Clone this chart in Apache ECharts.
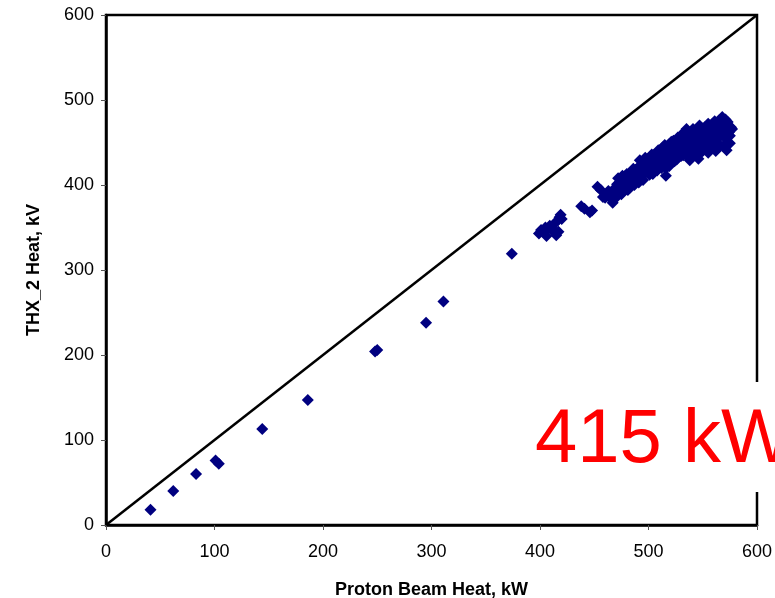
<!DOCTYPE html>
<html>
<head>
<meta charset="utf-8">
<script src="https://cdn.jsdelivr.net/npm/echarts@6/dist/echarts.min.js"></script>
<style>
  html, body { margin: 0; padding: 0; background: #fff; }
  #chart { width: 775px; height: 598px; }
</style>
</head>
<body>
<div id="chart"></div>
<script>
// Axis settings
const xTicks = [0, 100, 200, 300, 400, 500, 600];
const yTicks = [0, 100, 200, 300, 400, 500, 600];
const xName = 'Proton Beam Heat, kW';
const yName = 'THX_2 Heat, kV';
const calloutText = '415 kW';

// Reference line y = x
const diagonal = [[0, 0], [600, 600]];

// Measured points: [proton beam heat, THX_2 heat]
const rampUp = [
  [41, 18], [62, 40], [83, 60], [101, 76], [104, 72], [144, 113],
  [186, 147], [248, 204], [250, 206], [295, 238], [311, 263], [374, 319]
];
const lowPower = [
  [399, 343], [401, 347], [403, 345], [405, 350], [407, 348], [409, 352],
  [411, 349], [413, 354], [415, 341], [417, 345], [416, 358], [418, 362],
  [419, 365], [420, 360], [412, 346], [406, 340],
  [438, 375], [441, 372], [446, 368], [448, 370],
  [453, 398], [456, 394], [458, 386], [462, 390], [465, 387], [468, 395],
  [460, 385], [463, 393], [466, 383], [468, 389], [467, 379], [470, 385]
];
const fullPower = [
  [470, 392], [471, 401], [472, 408], [473, 396], [474, 404], [475, 389],
  [476, 411], [477, 399], [478, 405], [479, 395], [480, 413], [481, 402],
  [482, 408], [483, 397], [484, 415], [485, 404], [486, 410], [487, 400],
  [488, 418], [489, 407], [490, 413], [491, 403], [492, 422], [492, 429],
  [493, 410], [494, 418], [495, 425], [496, 413], [497, 421], [498, 428],
  [499, 416], [500, 424], [501, 432], [502, 419], [503, 427], [504, 413],
  [505, 435], [506, 422], [507, 430], [508, 417], [509, 438], [510, 426],
  [511, 433], [512, 420], [513, 444], [514, 429], [515, 437], [516, 411],
  [517, 441], [518, 425], [519, 448], [520, 433], [521, 440], [522, 427],
  [523, 452], [524, 436], [525, 444], [526, 430], [527, 456], [528, 439],
  [529, 447], [530, 434], [531, 460], [532, 443], [533, 451], [534, 437],
  [535, 466], [536, 446], [537, 454], [538, 429], [539, 462], [540, 441],
  [541, 457], [542, 449], [543, 435], [544, 464], [545, 452], [546, 431],
  [547, 459], [548, 446], [549, 467], [550, 440], [551, 455], [552, 462],
  [553, 448], [554, 470], [555, 438], [556, 458], [557, 465], [558, 445],
  [559, 472], [560, 452], [561, 461], [562, 440], [563, 468], [564, 449],
  [565, 476], [566, 457], [567, 464], [568, 480], [569, 446], [570, 470],
  [571, 455], [572, 441], [573, 474], [574, 462], [575, 449], [576, 468],
  [577, 466]
];
const fullPowerLate = [
  [474, 397], [478, 410], [481, 394], [485, 416], [488, 404], [490, 420],
  [493, 415], [495, 406], [497, 432], [499, 422], [501, 412], [503, 436],
  [505, 428], [507, 419], [509, 441], [511, 425], [513, 434], [515, 447],
  [517, 431], [519, 422], [521, 451], [523, 441], [525, 433], [527, 449],
  [529, 439], [531, 451], [533, 440], [535, 457], [537, 445], [539, 436],
  [541, 466], [543, 451], [545, 443], [547, 470], [549, 455], [551, 447],
  [553, 461], [555, 472], [557, 452], [559, 461], [561, 475], [563, 456],
  [565, 463], [567, 472], [569, 460], [571, 477], [573, 466], [575, 458],
  [536, 462], [544, 457], [552, 468], [560, 466], [526, 450], [518, 444],
  [510, 437], [502, 430], [494, 424], [486, 419], [548, 438], [556, 447],
  [564, 444], [540, 448], [532, 435], [524, 428], [516, 420], [508, 424]
];

const chart = echarts.init(document.getElementById('chart'), null, { renderer: 'canvas' });

const font = 'Liberation Sans, Arial, sans-serif';

function valueAxis(ticks, name, isX) {
  return {
    type: 'value',
    min: ticks[0],
    max: ticks[ticks.length - 1],
    interval: ticks[1] - ticks[0],
    name: name,
    nameLocation: 'middle',
    nameGap: isX ? 56 : 63,
    nameTextStyle: { fontFamily: font, fontSize: 18, fontWeight: 'bold', color: '#000' },
    axisLine: { show: true, onZero: false, lineStyle: { color: '#000', width: 2.5 } },
    axisTick: { show: true, inside: false, length: 5, lineStyle: { color: '#555', width: 1 } },
    axisLabel: { fontFamily: font, fontSize: 18, color: '#000', margin: isX ? 18 : 12 },
    splitLine: { show: false }
  };
}

const markerStyle = { color: '#000080', opacity: 1 };

function pointSeries(data) {
  return {
    type: 'scatter', data: data, symbol: 'diamond', symbolSize: 12,
    itemStyle: markerStyle, z: 2
  };
}

chart.setOption({
  animation: false,
  backgroundColor: '#fff',
  grid: {
    left: 106, right: 18, top: 15, bottom: 73,
    outerBoundsMode: 'none', containLabel: false,
    show: true, borderColor: '#000', borderWidth: 2.5, backgroundColor: 'transparent'
  },
  xAxis: valueAxis(xTicks, xName, true),
  yAxis: valueAxis(yTicks, yName, false),
  series: [
    {
      type: 'line', data: diagonal, symbol: 'none', silent: true,
      lineStyle: { color: '#000', width: 2.5 }, z: 1
    },
    pointSeries(rampUp),
    pointSeries(lowPower),
    pointSeries(fullPower),
    pointSeries(fullPowerLate)
  ],
  graphic: [
    {
      type: 'rect', z: 100,
      shape: { x: 530, y: 382, width: 245, height: 110 },
      style: { fill: '#fff' }
    },
    {
      type: 'text', z: 101,
      x: 535, y: 441,
      style: {
        text: calloutText, fill: '#ff0000',
        font: 'normal 76px Liberation Sans, Arial, sans-serif',
        verticalAlign: 'middle', align: 'left'
      }
    }
  ]
});
</script>
</body>
</html>
